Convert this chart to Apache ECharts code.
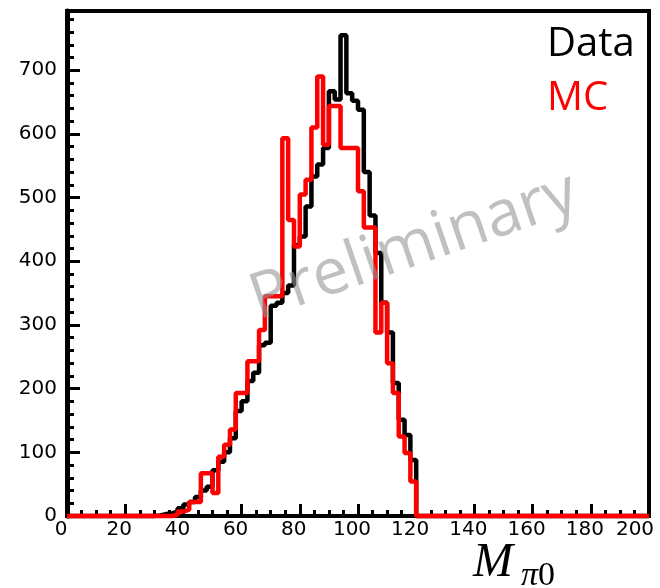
<!DOCTYPE html>
<html><head><meta charset="utf-8">
<script src="https://cdn.jsdelivr.net/npm/echarts@6/dist/echarts.min.js"></script>
<style>html,body{margin:0;padding:0;background:#fff}#c{width:660px;height:588px}</style>
</head><body><div id="c"></div>
<script>
// Histogram binning (x in units of the axis): 100 bins of width 2 from 0 to 200
const binLow = 0;
const binWidth = 2;

// Data (black) bin contents, bin i covers [2i, 2i+2)
const dataCounts = [
  0,0,0,0,0,0,0,0,0,0,        // 0-18
  0,0,0,0,0,1,3,4,7,12,       // 20-38
  18,22,30,40,46,72,85,100,122,165, // 40-58
  180,212,225,268,272,330,335,350,362,425, // 60-78
  439,486,533,552,578,667,654,755,664,652, // 80-98
  638,540,472,413,335,288,209,151,127,88,  // 100-118
  0,0,0,0,0,0,0,0,0,0,
  0,0,0,0,0,0,0,0,0,0,
  0,0,0,0,0,0,0,0,0,0,
  0,0,0,0,0,0,0,0,0,0
];

// MC (red) bin contents
const mcCounts = [
  0,0,0,0,0,0,0,0,0,0,
  0,0,0,0,0,0,0,0,2,7,
  10,22,22,67,67,36,93,112,136,193,
  193,243,243,292,345,345,345,593,465,423,
  505,528,610,690,583,644,644,578,578,578,
  510,453,453,288,335,240,193,125,99,54,
  0,0,0,0,0,0,0,0,0,0,
  0,0,0,0,0,0,0,0,0,0,
  0,0,0,0,0,0,0,0,0,0,
  0,0,0,0,0,0,0,0,0,0
];

const xTickLabels = [0,20,40,60,80,100,120,140,160,180,200];
const yTickLabels = [0,100,200,300,400,500,600,700];
const seriesNames = ['Data', 'MC'];
const seriesColors = ['#000000', '#ff0000'];
const watermarkText = 'Preliminary';

function toSteps(counts) {
  const pts = counts.map((v, i) => [binLow + i * binWidth, v]);
  pts.push([binLow + counts.length * binWidth, counts[counts.length - 1]]);
  return pts;
}

const chart = echarts.init(document.getElementById('c'), null, {renderer: 'canvas'});
const labelFont = {fontFamily: 'DejaVu Sans', fontSize: 20, color: '#000'};
const lastX = xTickLabels[xTickLabels.length - 1];

chart.setOption({
  animation: false,
  backgroundColor: '#fff',
  grid: {left: 67, right: 11, top: 11, bottom: 72, containLabel: false, outerBoundsMode: 'none',
         show: true, borderColor: '#000', borderWidth: 4, backgroundColor: 'transparent'},
  xAxis: {
    type: 'value', min: 0, max: 200, interval: 20,
    axisLine: {show: true, lineStyle: {color: '#000', width: 4}},
    axisTick: {show: true, inside: true, length: 12, lineStyle: {color: '#000', width: 3}},
    minorTick: {show: true, splitNumber: 4, length: 6, lineStyle: {color: '#000', width: 3}},
    splitLine: {show: false},
    axisLabel: Object.assign({align: 'center', margin: 4, padding: [0, 12, 0, 0],
      formatter: v => v === lastX ? '{e|' + v + '}' : (xTickLabels.includes(v) ? String(v) : ''),
      rich: {e: {fontFamily: 'DejaVu Sans', fontSize: 20, color: '#000', padding: [0, 16, 0, 0]}}}, labelFont)
  },
  yAxis: {
    type: 'value', min: 0, max: 793, interval: 100,
    axisLine: {show: true, lineStyle: {color: '#000', width: 5}},
    axisTick: {show: true, inside: true, length: 13, lineStyle: {color: '#000', width: 3}},
    minorTick: {show: true, splitNumber: 5, length: 7, lineStyle: {color: '#000', width: 3}},
    splitLine: {show: false},
    axisLabel: Object.assign({margin: 10,
      formatter: v => yTickLabels.includes(v) ? String(v) : ''}, labelFont)
  },
  series: [
    {name: seriesNames[0], type: 'line', step: 'end', showSymbol: false, clip: false,
     data: toSteps(dataCounts), lineStyle: {color: seriesColors[0], width: 4.5}, z: 3},
    {name: seriesNames[1], type: 'line', step: 'end', showSymbol: false, clip: false,
     data: toSteps(mcCounts), lineStyle: {color: seriesColors[1], width: 4.5}, z: 4}
  ],
  graphic: [
    {type: 'text', x: 414, y: 247, rotation: 19 * Math.PI / 180, z: 10, silent: true,
     style: {text: watermarkText, fill: 'rgba(150,150,150,0.6)', font: '64px "Open Sans"',
             align: 'center', verticalAlign: 'middle'}},
    {type: 'text', x: 547, y: 45, z: 10,
     style: {text: seriesNames[0], fill: seriesColors[0], font: '40px "Open Sans"', align: 'left', verticalAlign: 'middle'}},
    {type: 'text', x: 547, y: 99, z: 10,
     style: {text: seriesNames[1], fill: seriesColors[1], font: '40px "Open Sans"', align: 'left', verticalAlign: 'middle'}},
    {type: 'text', x: 473, y: 563, z: 10,
     style: {text: 'M', fill: '#000', font: 'italic 48px "Liberation Serif"', align: 'left', verticalAlign: 'middle'}},
    {type: 'text', x: 521, y: 576, z: 10,
     style: {text: '{p|π}{z|0}', fill: '#000', align: 'left', verticalAlign: 'middle',
       rich: {p: {font: 'italic 34px "Liberation Serif"', fill: '#000'}, z: {font: '34px "Liberation Serif"', fill: '#000'}}}}
  ]
});
</script></body></html>
